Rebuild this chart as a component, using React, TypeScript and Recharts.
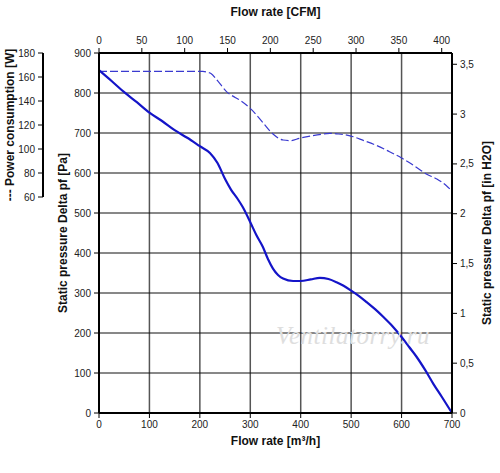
import React from "react";
import { LineChart, Line, XAxis, YAxis, CartesianGrid } from "recharts";

document.body.style.margin = "0";

// Static pressure curve, flow rate in m³/h and pressure in Pa
const pressureFlow = [
  0, 25, 50, 75, 100, 125, 150, 175, 200, 220, 235, 250, 262, 275, 285, 300,
  312, 325, 335, 345, 355, 365, 385, 400, 420, 438, 455, 471, 485, 500, 515,
  531, 548, 564, 582, 600, 615, 630, 647, 663, 680, 700,
];
const pressurePa = [
  857, 830, 802, 777, 751, 730, 707, 688, 667, 650, 625, 585, 558, 535, 515,
  477, 445, 415, 385, 361, 345, 336, 330, 330, 334, 338, 335, 327, 318, 306,
  293, 277, 259, 240, 217, 190, 165, 140, 107, 73, 40, 0,
];

// Power consumption curve (dashed), flow in m³/h and power in W
const powerFlow = [
  0, 100, 206, 215, 222, 235, 255, 270, 282, 302, 325, 345, 365, 380, 398,
  430, 458, 475, 498, 525, 550, 575, 600, 625, 650, 670, 690, 700,
];
const powerW = [
  164.7, 164.7, 164.7, 164, 163, 157, 147, 143, 140, 133, 122, 112.5, 107.5,
  107, 109, 111.5, 113, 112.5, 111, 107, 103, 98, 92.5, 86, 79, 75, 69, 65,
];

const flowTicks = [0, 100, 200, 300, 400, 500, 600, 700];
const cfmTicks = [0, 50, 100, 150, 200, 250, 300, 350, 400];
const paTicks = [0, 100, 200, 300, 400, 500, 600, 700, 800, 900];
const inchTicks = [0, 0.5, 1, 1.5, 2, 2.5, 3, 3.5];
const wattTicks = [60, 80, 100, 120, 140, 160, 180];

const M3H_PER_CFM = 1.699;
const PA_PER_INCH = 249.089;

const pressureData = pressureFlow.map((f, i) => ({ flow: f, cfm: f / M3H_PER_CFM, pa: pressurePa[i] }));
const powerData = powerFlow.map((f, i) => ({ flow: f, w: powerW[i] }));

const W = 500;
const H = 473;
const TOP_H = 53;
const BOTTOM_H = 60;
const PLOT_H = H - TOP_H - BOTTOM_H;
const WATT_MIN = -120;
const WATT_MAX = 180;
const wattStep = (PLOT_H * 20) / (WATT_MAX - WATT_MIN);

const FONT = "'Liberation Sans', Arial, sans-serif";
const tickStyle = { fontSize: 10, fill: "#222", fontFamily: FONT };
const titleStyle = { fontSize: 12, fontWeight: 700, fill: "#111", fontFamily: FONT };

const PowerTick = (props: any) => {
  const { x, y, payload } = props;
  const axisX = x + 8;
  return (
    <g>
      {payload.value < 180 && (
        <line x1={axisX} x2={axisX} y1={y} y2={y - wattStep} stroke="#000" strokeWidth={2} />
      )}
      <line x1={axisX - 5} x2={axisX} y1={y} y2={y} stroke="#000" strokeWidth={1} />
      <text x={x} y={y} dy={3.5} textAnchor="end" style={tickStyle}>
        {payload.value}
      </text>
    </g>
  );
};

const vLabel = (text: string, dx: number, frac: number) => (props: any) => {
  const vb = props.viewBox;
  const x = vb.x + dx;
  const y = vb.y + vb.height * frac;
  return (
    <text x={x} y={y} transform={`rotate(-90 ${x} ${y})`} textAnchor="middle" dominantBaseline="central" style={titleStyle}>
      {text}
    </text>
  );
};

const hLabel = (text: string, dy: number) => (props: any) => {
  const vb = props.viewBox;
  return (
    <text x={vb.x + vb.width / 2} y={vb.y + dy} textAnchor="middle" dominantBaseline="central" style={titleStyle}>
      {text}
    </text>
  );
};

export default function App() {
  return (
    <div style={{ position: "relative", width: W, height: H }}>
      <LineChart width={W} height={H} margin={{ top: 0, right: 0, bottom: 0, left: 0 }}>
        <CartesianGrid xAxisId="m3" yAxisId="pa" horizontal={false} stroke="#555" strokeWidth={1.5} />
        <CartesianGrid xAxisId="m3" yAxisId="pa" vertical={false} stroke="#111" strokeWidth={1} />
        <XAxis
          xAxisId="m3"
          dataKey="flow"
          type="number"
          domain={[0, 700]}
          ticks={flowTicks}
          height={BOTTOM_H}
          tick={tickStyle}
          tickSize={5}
          tickMargin={3}
          tickLine={{ stroke: "#000" }}
          axisLine={{ stroke: "#000", strokeWidth: 2 }}
          label={{ content: hLabel("Flow rate [m³/h]", 28) }}
        />
        <XAxis
          xAxisId="cfm"
          dataKey="cfm"
          orientation="top"
          type="number"
          domain={[0, 700 / M3H_PER_CFM]}
          ticks={cfmTicks}
          height={TOP_H}
          tick={tickStyle}
          tickSize={5}
          tickMargin={4}
          tickLine={{ stroke: "#000" }}
          axisLine={{ stroke: "#000", strokeWidth: 2 }}
          allowDataOverflow
          label={{ content: hLabel("Flow rate [CFM]", 12) }}
        />
        <YAxis
          yAxisId="pa"
          type="number"
          domain={[0, 900]}
          ticks={paTicks}
          width={56}
          tick={tickStyle}
          tickSize={5}
          tickMargin={3}
          tickLine={{ stroke: "#000" }}
          axisLine={{ stroke: "#000", strokeWidth: 2 }}
          label={{ content: vLabel("Static pressure Delta pf [Pa]", 20, 0.5) }}
        />
        <YAxis
          yAxisId="watt"
          type="number"
          domain={[WATT_MIN, WATT_MAX]}
          ticks={wattTicks}
          width={43}
          tick={<PowerTick />}
          tickSize={5}
          tickMargin={3}
          tickLine={false}
          axisLine={false}
          label={{ content: vLabel("--- Power consumption [W]", 10, 0.2) }}
        />
        <YAxis
          yAxisId="inch"
          orientation="right"
          type="number"
          domain={[0, 900 / PA_PER_INCH]}
          ticks={inchTicks}
          width={48}
          tick={tickStyle}
          tickSize={5}
          tickMargin={3}
          tickLine={{ stroke: "#000" }}
          axisLine={{ stroke: "#000", strokeWidth: 2 }}
          tickFormatter={(v: number) => String(v).replace(".", ",")}
          allowDataOverflow
          label={{ content: vLabel("Static pressure Delta pf [in H2O]", 35, 0.5) }}
        />
        {/* invisible copy so the CFM axis has a series */}
        <Line
          xAxisId="cfm"
          yAxisId="inch"
          data={pressureData}
          dataKey={(d: any) => d.pa / PA_PER_INCH}
          stroke="none"
          dot={false}
          activeDot={false}
          legendType="none"
          isAnimationActive={false}
        />
        <Line
          xAxisId="m3"
          yAxisId="watt"
          data={powerData}
          dataKey="w"
          type="monotone"
          stroke="#3a3ad0"
          strokeWidth={1.2}
          strokeDasharray="8 3"
          dot={false}
          isAnimationActive={false}
        />
        <Line
          xAxisId="m3"
          yAxisId="pa"
          data={pressureData}
          dataKey="pa"
          type="monotone"
          stroke="#1414c8"
          strokeWidth={2.2}
          dot={false}
          isAnimationActive={false}
        />
      </LineChart>
      <div
        style={{
          position: "absolute",
          left: 276,
          top: 322,
          fontFamily: "'Liberation Serif', serif",
          fontStyle: "italic",
          fontSize: 25,
          color: "#dedede",
          pointerEvents: "none",
          letterSpacing: 0.5,
        }}
      >
        Ventilatorry.ru
      </div>
    </div>
  );
}
